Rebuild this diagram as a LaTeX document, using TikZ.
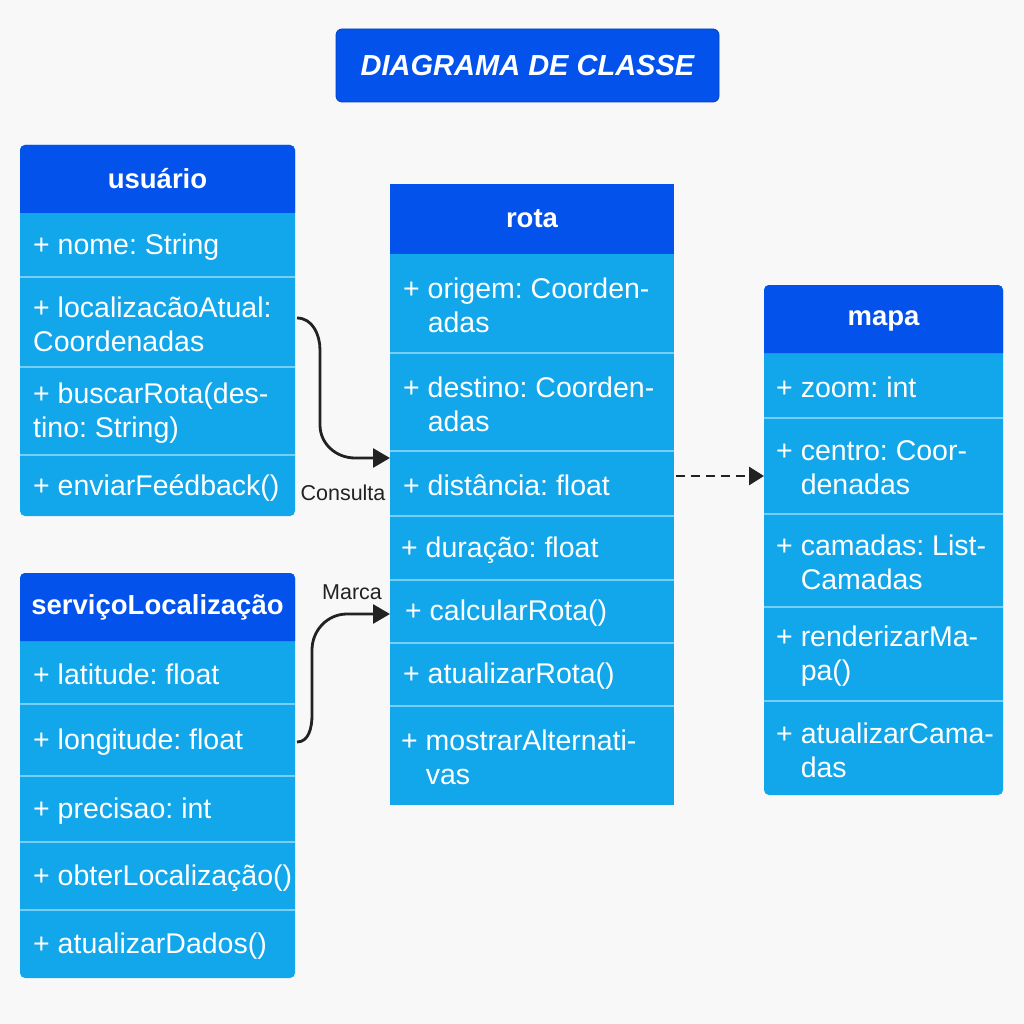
\documentclass[tikz,border=0pt]{standalone}
\usepackage{fontspec}
\setmainfont{Liberation Sans}
\usetikzlibrary{arrows.meta,calc}
\definecolor{hdr}{RGB}{3,82,236}
\definecolor{bdy}{RGB}{18,166,234}
\definecolor{sepc}{RGB}{120,205,245}
\definecolor{bg}{RGB}{248,248,248}
\definecolor{ink}{RGB}{34,34,34}
\newcommand{\myind}{\hphantom{+\ }}
\frenchspacing
\tikzset{
  rowbox/.style={anchor=north west, inner sep=0pt, outer sep=0pt},
  sepline/.style={draw=sepc, line width=1.2pt},
  rowtxt/.style={anchor=west, inner sep=0pt, text=white, align=left,
    font=\frenchspacing\fontsize{28.5}{34}\selectfont},
  hdrtxt/.style={text=white, inner sep=0pt, font=\bfseries\fontsize{27.5}{30}\selectfont},
  lbl/.style={text=ink, inner sep=0pt, font=\fontsize{21.5}{24}\selectfont},
  conn/.style={draw=ink, line width=2.8pt, -{Triangle[length=17pt,width=19pt]}},
  dconn/.style={draw=ink, line width=2.8pt, dash pattern=on 9pt off 6pt,
    -{Triangle[length=15pt,width=18pt]}},
  titlebox/.style={fill=hdr, draw=hdr!80!black, line width=0.8pt, rounded corners=6pt,
    minimum width=383pt, minimum height=73pt, text=white, inner sep=0pt,
    font=\bfseries\itshape\fontsize{29}{32}\selectfont}
}
\begin{document}
\begin{tikzpicture}[x=1pt,y=-1pt]
\fill[bg] (0,0) rectangle (1024,1024);
\useasboundingbox (0,0) rectangle (1024,1024);

% title
\node[titlebox] (title) at (527.5,65.5) {DIAGRAMA DE CLASSE};

% ---------- usuario ----------
\fill[bdy, rounded corners=5pt] (20,145) rectangle (295,516);
\fill[hdr] (20,213) [rounded corners=5pt] -- (20,145) -- (295,145) [sharp corners] -- (295,213) -- cycle;
\node[hdrtxt] (usuario) at (157.5,179) {usuário};
\node[rowbox, minimum width=275pt, minimum height=64pt] (u1) at (20,213) {};
\node[rowbox, minimum width=275pt, minimum height=90pt] (u2) at (20,277) {};
\node[rowbox, minimum width=275pt, minimum height=88pt] (u3) at (20,367) {};
\node[rowbox, minimum width=275pt, minimum height=61pt] (u4) at (20,455) {};
\foreach \r in {u1,u2,u3} \draw[sepline] (\r.south west) -- (\r.south east);
\node[rowtxt] at ([xshift=13pt,yshift=-2pt]u1.west) {+ nome: String};
\node[rowtxt] at ([xshift=13pt,yshift=-2pt]u2.west) {+ localizacãoAtual:\\Coordenadas};
\node[rowtxt] at ([xshift=13pt,yshift=-2pt]u3.west) {+ buscarRota(des-\\tino: String)};
\node[rowtxt] at ([xshift=13pt,yshift=-2pt]u4.west) {+ enviarFeédback()};

% ---------- servicoLocalizacao ----------
\fill[bdy, rounded corners=5pt] (20,573) rectangle (295,978);
\fill[hdr] (20,641) [rounded corners=5pt] -- (20,573) -- (295,573) [sharp corners] -- (295,641) -- cycle;
\node[hdrtxt] (servico) at (157.5,607) {serviçoLocalização};
\node[rowbox, minimum width=275pt, minimum height=63pt] (s1) at (20,641) {};
\node[rowbox, minimum width=275pt, minimum height=72pt] (s2) at (20,704) {};
\node[rowbox, minimum width=275pt, minimum height=66pt] (s3) at (20,776) {};
\node[rowbox, minimum width=275pt, minimum height=68pt] (s4) at (20,842) {};
\node[rowbox, minimum width=275pt, minimum height=68pt] (s5) at (20,910) {};
\foreach \r in {s1,s2,s3,s4} \draw[sepline] (\r.south west) -- (\r.south east);
\node[rowtxt] at ([xshift=13pt,yshift=-2pt]s1.west) {+ latitude: float};
\node[rowtxt] at ([xshift=13pt,yshift=-2pt]s2.west) {+ longitude: float};
\node[rowtxt] at ([xshift=13pt,yshift=-2pt]s3.west) {+ precisao: int};
\node[rowtxt] at ([xshift=13pt,yshift=-2pt]s4.west) {+ obterLocalização()};
\node[rowtxt] at ([xshift=13pt,yshift=-2pt]s5.west) {+ atualizarDados()};

% ---------- rota ----------
\fill[bdy] (390,184) rectangle (674,805);
\fill[hdr] (390,184) rectangle (674,254);
\node[hdrtxt] (rota) at (532,219) {rota};
\node[rowbox, minimum width=284pt, minimum height=99pt] (r1) at (390,254) {};
\node[rowbox, minimum width=284pt, minimum height=98pt] (r2) at (390,353) {};
\node[rowbox, minimum width=284pt, minimum height=65pt] (r3) at (390,451) {};
\node[rowbox, minimum width=284pt, minimum height=64pt] (r4) at (390,516) {};
\node[rowbox, minimum width=284pt, minimum height=63pt] (r5) at (390,580) {};
\node[rowbox, minimum width=284pt, minimum height=63pt] (r6) at (390,643) {};
\node[rowbox, minimum width=284pt, minimum height=99pt] (r7) at (390,706) {};
\foreach \r in {r1,r2,r3,r4,r5,r6} \draw[sepline] (\r.south west) -- (\r.south east);
\node[rowtxt] at ([xshift=13pt,yshift=-2pt]r1.west) {+ origem: Coorden-\\\myind adas};
\node[rowtxt] at ([xshift=13pt,yshift=-2pt]r2.west) {+ destino: Coorden-\\\myind adas};
\node[rowtxt] at ([xshift=13pt,yshift=-2pt]r3.west) {+ distância: float};
\node[rowtxt] at ([xshift=11pt,yshift=-2pt]r4.west) {+ duração: float};
\node[rowtxt] at ([xshift=15pt,yshift=-2pt]r5.west) {+ calcularRota()};
\node[rowtxt] at ([xshift=13pt,yshift=-2pt]r6.west) {+ atualizarRota()};
\node[rowtxt] at ([xshift=11pt,yshift=-2pt]r7.west) {+ mostrarAlternati-\\\myind vas};

% ---------- mapa ----------
\fill[bdy, rounded corners=5pt] (764,285) rectangle (1003,795);
\fill[hdr] (764,353) [rounded corners=5pt] -- (764,285) -- (1003,285) [sharp corners] -- (1003,353) -- cycle;
\node[hdrtxt] (mapa) at (883.5,321) {mapa};
\node[rowbox, minimum width=239pt, minimum height=65pt] (m1) at (764,353) {};
\node[rowbox, minimum width=239pt, minimum height=96pt] (m2) at (764,418) {};
\node[rowbox, minimum width=239pt, minimum height=93pt] (m3) at (764,514) {};
\node[rowbox, minimum width=239pt, minimum height=94pt] (m4) at (764,607) {};
\node[rowbox, minimum width=239pt, minimum height=94pt] (m5) at (764,701) {};
\foreach \r in {m1,m2,m3,m4} \draw[sepline] (\r.south west) -- (\r.south east);
\node[rowtxt] at ([xshift=12pt,yshift=-2pt]m1.west) {+ zoom: int};
\node[rowtxt] at ([xshift=12pt,yshift=-2pt]m2.west) {+ centro: Coor-\\\myind denadas};
\node[rowtxt] at ([xshift=12pt,yshift=-2pt]m3.west) {+ camadas: List-\\\myind Camadas};
\node[rowtxt] at ([xshift=12pt,yshift=-2pt]m4.west) {+ renderizarMa-\\\myind pa()};
\node[rowtxt] at ([xshift=12pt,yshift=-2pt]m5.west) {+ atualizarCama-\\\myind das};

% ---------- connectors ----------
\draw[conn] ([xshift=2pt,yshift=4pt]u2.east) to[out=0,in=90] (320,350) -- (320,425)
  to[out=-90,in=180] (355,458) -- ([yshift=25.5pt]r3.west);
\node[lbl] (consulta) at (343,493) {Consulta};

\draw[conn] ([xshift=2pt,yshift=-2pt]s2.east) to[out=0,in=-90] (312,715) -- (312,650)
  to[out=90,in=180] (347,614) -- ([yshift=-2.5pt]r5.west);
\node[lbl] (marca) at (352,592) {Marca};

\draw[dconn] ([xshift=2pt,yshift=7.5pt]r3.east) -- ([yshift=-10pt]m2.west);
\end{tikzpicture}
\end{document}
